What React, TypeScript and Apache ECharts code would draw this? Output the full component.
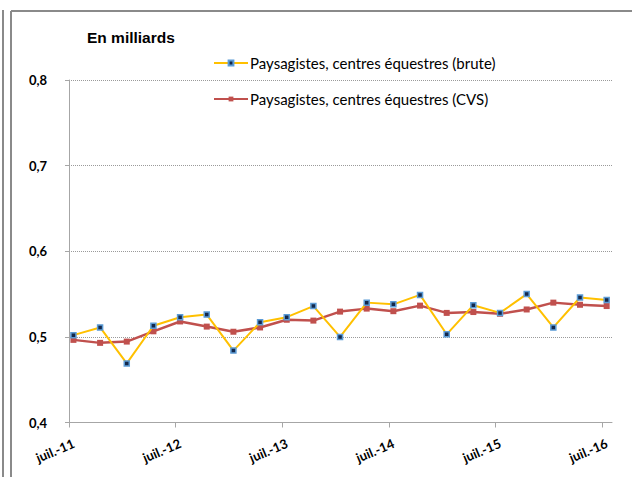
import React, { useEffect, useRef } from "react";
import * as echarts from "echarts";

const quarters = [
  "juil.-11", "oct.-11", "janv.-12", "avr.-12", "juil.-12", "oct.-12", "janv.-13",
  "avr.-13", "juil.-13", "oct.-13", "janv.-14", "avr.-14", "juil.-14", "oct.-14",
  "janv.-15", "avr.-15", "juil.-15", "oct.-15", "janv.-16", "avr.-16", "juil.-16",
];
const brute = [
  0.502, 0.511, 0.469, 0.513, 0.523, 0.526, 0.484, 0.517, 0.523, 0.536, 0.5,
  0.54, 0.538, 0.549, 0.503, 0.537, 0.528, 0.55, 0.511, 0.546, 0.543,
];
const cvs = [
  0.4965, 0.493, 0.4945, 0.5065, 0.518, 0.512, 0.506, 0.511, 0.52, 0.519, 0.5295,
  0.533, 0.53, 0.5365, 0.528, 0.529, 0.527, 0.532, 0.54, 0.5375, 0.536,
];
const tickLabels = ["juil.-11", "juil.-12", "juil.-13", "juil.-14", "juil.-15", "juil.-16"];
const seriesNames = [
  "Paysagistes, centres équestres (brute)",
  "Paysagistes, centres équestres (CVS)",
];
const title = "En milliards";

// months since juil.-11 for each quarter (points plotted mid-month)
const monthOf = (i: number) => quarters.indexOf(quarters[i]) * 3 + 0.5;
const tickMonths = tickLabels.map((_, k) => k * 12);

const FONT = "Lato, 'Open Sans', sans-serif";

export default function App() {
  const ref = useRef<HTMLDivElement>(null);
  useEffect(() => {
    document.body.style.margin = "0";
    if (!ref.current) return;
    const chart = echarts.init(ref.current, null, { renderer: "svg" });
    const frame = "#8a8a8a";
    const legendBase = {
      orient: "horizontal",
      left: 213,
      padding: 0,
      itemWidth: 34,
      itemHeight: 6,
      textStyle: { fontFamily: FONT, fontSize: 15, color: "#000", lineHeight: 16, padding: [0, 0, 0, -3] },
    };
    chart.setOption({
      animation: false,
      backgroundColor: "#ffffff",
      title: {
        text: title,
        left: 87,
        top: 28,
        padding: 0,
        textStyle: { fontFamily: "Liberation Sans", fontSize: 15.5, fontWeight: "bold", color: "#000", lineHeight: 18 },
      },
      legend: [
        { ...legendBase, top: 55, data: [seriesNames[0]] },
        { ...legendBase, top: 91, data: [seriesNames[1]] },
      ],
      grid: { left: 69, right: 20, top: 80, bottom: 54.5, containLabel: false },
      xAxis: {
        type: "value",
        min: 0,
        max: 61.1,
        splitLine: { show: false },
        axisLine: { show: true, lineStyle: { color: "#a6a6a6", width: 1 } },
        axisTick: { show: true, length: 5, lineStyle: { color: "#a6a6a6" }, customValues: tickMonths },
        axisLabel: {
          customValues: tickMonths,
          rotate: 23,
          margin: 22,
          padding: [0, -5, 0, 0],
          formatter: (v: number) => tickLabels[Math.round(v / 12)] ?? "",
          fontFamily: FONT,
          fontWeight: "bold",
          fontSize: 13,
          color: "#000",
        },
      },
      yAxis: {
        type: "value",
        min: 0.4,
        max: 0.8,
        interval: 0.1,
        axisLine: { show: true, lineStyle: { color: "#a6a6a6", width: 1 } },
        axisTick: { show: true, length: 4, lineStyle: { color: "#a6a6a6" } },
        splitLine: { show: true, lineStyle: { color: "#9a9a9a", type: "dotted", width: 1 } },
        axisLabel: {
          margin: 22,
          formatter: (v: number) => v.toFixed(1).replace(".", ","),
          fontFamily: FONT,
          fontWeight: "bold",
          fontSize: 13,
          color: "#000",
        },
      },
      series: [
        {
          name: seriesNames[1],
          type: "line",
          data: cvs.map((v, i) => [monthOf(i), v]),
          symbol: "rect",
          symbolSize: 6,
          lineStyle: { color: "#C0504D", width: 2.5 },
          itemStyle: { color: "#C0504D" },
          z: 2,
        },
        {
          name: seriesNames[0],
          type: "line",
          data: brute.map((v, i) => [monthOf(i), v]),
          symbol: "rect",
          symbolSize: 5,
          lineStyle: { color: "#FFC000", width: 2 },
          itemStyle: { color: "#14284B", borderColor: "#5B9BD5", borderWidth: 1.5 },
          z: 3,
        },
      ],
      graphic: [
        { type: "line", shape: { x1: 3, y1: 10, x2: 3, y2: 477 }, style: { stroke: frame, lineWidth: 2 } },
        { type: "line", shape: { x1: 11, y1: 11, x2: 632, y2: 11 }, style: { stroke: frame, lineWidth: 2 } },
        { type: "line", shape: { x1: 11, y1: 11, x2: 11, y2: 477 }, style: { stroke: frame, lineWidth: 2 } },
      ],
    });
    return () => chart.dispose();
  }, []);
  return <div ref={ref} style={{ width: 632, height: 477 }} />;
}
